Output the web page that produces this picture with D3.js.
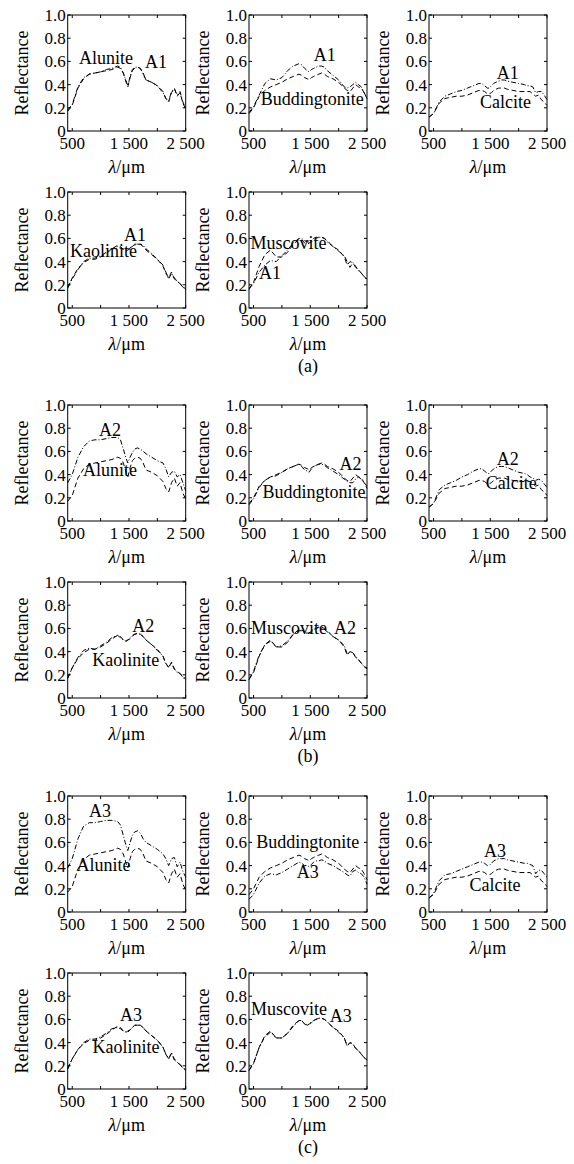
<!DOCTYPE html>
<html>
<head>
<meta charset="utf-8">
<script src="https://cdn.jsdelivr.net/npm/d3@7"></script>
<style>
  body { margin: 0; background: #fff; }
  svg text { font-family: "Liberation Serif", "DejaVu Serif", "Times New Roman", serif; fill: #000; }
</style>
</head>
<body>
<div id="chart"></div>
<script>
// sampled wavelengths (nm) shared by every spectrum
var wavelengths = [420, 500, 600, 700, 800, 900, 1000, 1100, 1200, 1300, 1350, 1400, 1450, 1480, 1520, 1560,
                   1600, 1650, 1700, 1750, 1800, 1900, 2000, 2100, 2150, 2200, 2250, 2300, 2350, 2400, 2450, 2500];

// library spectra (dashed)
var alunite       = [0.17, 0.22, 0.37, 0.45, 0.49, 0.50, 0.51, 0.52, 0.53, 0.55, 0.54, 0.50, 0.42, 0.38, 0.46, 0.52, 0.54, 0.55, 0.54, 0.50, 0.44, 0.42, 0.39, 0.34, 0.28, 0.25, 0.33, 0.37, 0.30, 0.33, 0.24, 0.19];
var buddingtonite = [0.15, 0.20, 0.30, 0.35, 0.38, 0.40, 0.42, 0.45, 0.47, 0.49, 0.48, 0.46, 0.45, 0.44, 0.46, 0.47, 0.48, 0.49, 0.50, 0.49, 0.47, 0.45, 0.42, 0.37, 0.35, 0.34, 0.37, 0.40, 0.38, 0.37, 0.33, 0.28];
var calcite       = [0.12, 0.15, 0.24, 0.28, 0.29, 0.30, 0.30, 0.31, 0.33, 0.35, 0.35, 0.34, 0.32, 0.32, 0.33, 0.35, 0.36, 0.37, 0.37, 0.37, 0.36, 0.35, 0.34, 0.34, 0.34, 0.34, 0.32, 0.30, 0.31, 0.27, 0.25, 0.22];
var kaolinite     = [0.17, 0.26, 0.34, 0.39, 0.42, 0.42, 0.44, 0.47, 0.51, 0.54, 0.53, 0.50, 0.49, 0.50, 0.51, 0.53, 0.55, 0.55, 0.55, 0.53, 0.50, 0.46, 0.42, 0.36, 0.30, 0.26, 0.31, 0.25, 0.23, 0.21, 0.19, 0.16];
var muscovite     = [0.16, 0.22, 0.36, 0.46, 0.50, 0.44, 0.44, 0.48, 0.55, 0.59, 0.59, 0.56, 0.55, 0.56, 0.57, 0.59, 0.60, 0.61, 0.61, 0.60, 0.58, 0.53, 0.50, 0.44, 0.37, 0.40, 0.39, 0.35, 0.33, 0.30, 0.27, 0.25];

// image endmember A1 (dash-dot)
var a1Alunite       = [0.18, 0.23, 0.38, 0.46, 0.49, 0.50, 0.51, 0.53, 0.54, 0.56, 0.55, 0.50, 0.43, 0.39, 0.47, 0.53, 0.55, 0.55, 0.54, 0.49, 0.44, 0.42, 0.39, 0.33, 0.28, 0.26, 0.34, 0.36, 0.31, 0.34, 0.25, 0.20];
var a1Buddingtonite = [0.16, 0.21, 0.31, 0.41, 0.45, 0.44, 0.46, 0.52, 0.56, 0.58, 0.57, 0.54, 0.52, 0.51, 0.53, 0.54, 0.55, 0.56, 0.56, 0.55, 0.52, 0.48, 0.44, 0.38, 0.37, 0.38, 0.40, 0.42, 0.40, 0.38, 0.33, 0.28];
var a1Calcite       = [0.12, 0.15, 0.25, 0.30, 0.32, 0.34, 0.35, 0.37, 0.39, 0.41, 0.41, 0.39, 0.37, 0.37, 0.39, 0.41, 0.42, 0.43, 0.44, 0.44, 0.43, 0.42, 0.41, 0.40, 0.39, 0.39, 0.38, 0.33, 0.34, 0.34, 0.31, 0.27];
var a1Kaolinite     = [0.18, 0.25, 0.33, 0.40, 0.43, 0.43, 0.45, 0.48, 0.51, 0.53, 0.52, 0.51, 0.50, 0.50, 0.52, 0.53, 0.54, 0.55, 0.55, 0.54, 0.51, 0.47, 0.42, 0.37, 0.31, 0.25, 0.30, 0.26, 0.23, 0.21, 0.18, 0.16];
var a1Muscovite     = [0.17, 0.21, 0.31, 0.37, 0.41, 0.40, 0.45, 0.50, 0.56, 0.60, 0.60, 0.58, 0.57, 0.57, 0.58, 0.60, 0.61, 0.61, 0.61, 0.60, 0.57, 0.53, 0.49, 0.45, 0.40, 0.35, 0.39, 0.36, 0.32, 0.30, 0.27, 0.24];

// image endmember A2
var a2Alunite       = [0.33, 0.40, 0.55, 0.64, 0.69, 0.70, 0.70, 0.71, 0.72, 0.72, 0.70, 0.62, 0.54, 0.50, 0.55, 0.59, 0.62, 0.63, 0.62, 0.60, 0.58, 0.55, 0.52, 0.50, 0.45, 0.38, 0.42, 0.43, 0.38, 0.40, 0.33, 0.26];
var a2Buddingtonite = [0.14, 0.19, 0.29, 0.35, 0.38, 0.39, 0.42, 0.45, 0.47, 0.49, 0.47, 0.44, 0.43, 0.42, 0.45, 0.47, 0.48, 0.49, 0.49, 0.48, 0.46, 0.43, 0.40, 0.36, 0.34, 0.33, 0.33, 0.36, 0.38, 0.36, 0.33, 0.30];
var a2Calcite       = [0.12, 0.15, 0.27, 0.31, 0.33, 0.35, 0.38, 0.40, 0.43, 0.45, 0.45, 0.43, 0.41, 0.41, 0.43, 0.45, 0.46, 0.47, 0.47, 0.47, 0.46, 0.44, 0.42, 0.41, 0.40, 0.38, 0.37, 0.35, 0.36, 0.35, 0.32, 0.29];
var a2Kaolinite     = [0.17, 0.26, 0.35, 0.41, 0.43, 0.42, 0.45, 0.48, 0.52, 0.54, 0.52, 0.50, 0.49, 0.50, 0.52, 0.54, 0.55, 0.56, 0.55, 0.53, 0.50, 0.46, 0.41, 0.36, 0.29, 0.27, 0.30, 0.25, 0.22, 0.21, 0.18, 0.15];
var a2Muscovite     = [0.16, 0.23, 0.37, 0.46, 0.49, 0.44, 0.45, 0.49, 0.55, 0.58, 0.58, 0.56, 0.56, 0.56, 0.58, 0.59, 0.60, 0.61, 0.60, 0.59, 0.57, 0.53, 0.50, 0.45, 0.38, 0.40, 0.39, 0.36, 0.33, 0.30, 0.27, 0.26];

// image endmember A3
var a3Alunite       = [0.38, 0.46, 0.63, 0.74, 0.77, 0.77, 0.78, 0.79, 0.79, 0.78, 0.75, 0.66, 0.57, 0.53, 0.60, 0.66, 0.69, 0.70, 0.68, 0.63, 0.60, 0.57, 0.54, 0.50, 0.46, 0.40, 0.46, 0.47, 0.39, 0.43, 0.35, 0.30];
var a3Buddingtonite = [0.11, 0.15, 0.25, 0.31, 0.33, 0.32, 0.34, 0.37, 0.40, 0.43, 0.42, 0.40, 0.40, 0.39, 0.41, 0.43, 0.44, 0.44, 0.45, 0.44, 0.42, 0.40, 0.37, 0.34, 0.32, 0.31, 0.35, 0.36, 0.34, 0.33, 0.30, 0.24];
var a3Calcite       = [0.12, 0.16, 0.27, 0.32, 0.33, 0.35, 0.37, 0.39, 0.41, 0.43, 0.43, 0.42, 0.40, 0.40, 0.42, 0.44, 0.45, 0.46, 0.46, 0.46, 0.45, 0.44, 0.43, 0.42, 0.42, 0.41, 0.40, 0.33, 0.36, 0.36, 0.33, 0.30];
var a3Kaolinite     = [0.18, 0.26, 0.34, 0.40, 0.43, 0.43, 0.45, 0.48, 0.52, 0.53, 0.52, 0.50, 0.49, 0.49, 0.51, 0.53, 0.55, 0.55, 0.55, 0.53, 0.50, 0.46, 0.42, 0.36, 0.30, 0.26, 0.31, 0.26, 0.23, 0.21, 0.18, 0.16];
var a3Muscovite     = [0.16, 0.22, 0.36, 0.45, 0.49, 0.44, 0.44, 0.48, 0.54, 0.59, 0.59, 0.56, 0.55, 0.56, 0.58, 0.59, 0.60, 0.61, 0.61, 0.60, 0.58, 0.53, 0.49, 0.44, 0.37, 0.40, 0.39, 0.35, 0.33, 0.30, 0.27, 0.26];

var minerals = ["Alunite", "Buddingtonite", "Calcite", "Kaolinite", "Muscovite"];
var endmembers = ["A1", "A2", "A3"];
var captions = ["(a)", "(b)", "(c)"];
var xTicks = [500, 1000, 1500, 2000, 2500];
var xTickLabels = {500: "500", 1500: "1 500", 2500: "2 500"};
var yTicks = [0, 0.2, 0.4, 0.6, 0.8, 1.0];

var libSpectra = [alunite, buddingtonite, calcite, kaolinite, muscovite];
var emSpectra = [
  [a1Alunite, a1Buddingtonite, a1Calcite, a1Kaolinite, a1Muscovite],
  [a2Alunite, a2Buddingtonite, a2Calcite, a2Kaolinite, a2Muscovite],
  [a3Alunite, a3Buddingtonite, a3Calcite, a3Kaolinite, a3Muscovite]
];

// where the in-plot labels sit, [wavelength, reflectance] of the text baseline
var mineralLabelAt = [
  [[1095, 0.58], [1535, 0.225], [1767, 0.20], [1049, 0.44], [1117, 0.51]],
  [[1166, 0.39], [1564, 0.20], [1868, 0.28], [1442, 0.275], [1125, 0.55]],
  [[1053, 0.35], [1454, 0.555], [1583, 0.18], [1448, 0.31], [1125, 0.64]]
];
var endmemberLabelAt = [
  [[1976, 0.54], [1755, 0.60], [1809, 0.45], [1607, 0.58], [790, 0.25]],
  [[1166, 0.73], [2208, 0.44], [1809, 0.48], [1754, 0.565], [2112, 0.55]],
  [[990, 0.82], [1454, 0.29], [1583, 0.47], [1536, 0.585], [2038, 0.58]]
];

var width = 574, height = 1164;
var boxW = 118, boxH = 116;
var groupTop = [15, 405, 796];
var rowOffset = [0, 177];
var colLeft = [67.7, 249, 429];
var fontFamily = "'Liberation Serif', 'DejaVu Serif', serif";

var svg = d3.select("#chart").append("svg")
  .attr("width", width)
  .attr("height", height)
  .attr("viewBox", [0, 0, width, height])
  .attr("font-family", fontFamily);

var x = d3.scaleLinear().domain([420, 2500]).range([0, boxW]);
var y = d3.scaleLinear().domain([0, 1]).range([boxH, 0]);

var line = d3.line()
  .x(function(d) { return x(d[0]); })
  .y(function(d) { return y(d[1]); });

function drawPanel(g, lib, em, mineral, emName, minPos, emPos) {
  // box
  g.append("rect")
    .attr("width", boxW).attr("height", boxH)
    .attr("fill", "none").attr("stroke", "#000").attr("stroke-width", 1);

  // inward ticks on all four sides
  var ticks = g.append("g").attr("stroke", "#000").attr("stroke-width", 1);
  xTicks.forEach(function(t) {
    ticks.append("line").attr("x1", x(t)).attr("x2", x(t)).attr("y1", boxH).attr("y2", boxH - 3);
    ticks.append("line").attr("x1", x(t)).attr("x2", x(t)).attr("y1", 0).attr("y2", 3);
  });
  yTicks.forEach(function(t) {
    ticks.append("line").attr("x1", 0).attr("x2", 3).attr("y1", y(t)).attr("y2", y(t));
    ticks.append("line").attr("x1", boxW).attr("x2", boxW - 3).attr("y1", y(t)).attr("y2", y(t));
  });

  g.selectAll(".ytl").data(yTicks).enter().append("text")
    .attr("x", -2).attr("y", function(d) { return y(d); })
    .attr("dy", "0.35em")
    .attr("text-anchor", "end")
    .style("font-size", "17px")
    .text(function(d) { return d === 0 ? "0" : d.toFixed(1); });

  g.selectAll(".xtl").data(xTicks.filter(function(t) { return xTickLabels[t]; })).enter().append("text")
    .attr("x", function(d) { return x(d); })
    .attr("y", boxH + 18)
    .attr("text-anchor", "middle")
    .style("font-size", "17px")
    .text(function(d) { return xTickLabels[d]; });

  g.append("text")
    .attr("transform", "translate(" + (-40) + "," + (boxH / 2) + ") rotate(-90)")
    .attr("text-anchor", "middle")
    .style("font-size", "18px")
    .text("Reflectance");

  var xl = g.append("text")
    .attr("x", boxW / 2).attr("y", boxH + 42)
    .attr("text-anchor", "middle")
    .style("font-size", "18px");
  xl.append("tspan").style("font-style", "italic").text("\u03bb");
  xl.append("tspan").text("/\u03bcm");

  g.append("path")
    .datum(d3.zip(wavelengths, lib))
    .attr("d", line)
    .attr("fill", "none").attr("stroke", "#000").attr("stroke-width", 1)
    .attr("stroke-dasharray", "5,3");

  g.append("path")
    .datum(d3.zip(wavelengths, em))
    .attr("d", line)
    .attr("fill", "none").attr("stroke", "#000").attr("stroke-width", 1)
    .attr("stroke-dasharray", "5,2,1,2");

  g.append("text")
    .attr("x", x(minPos[0])).attr("y", y(minPos[1]))
    .attr("text-anchor", "middle")
    .style("font-size", "18px")
    .text(mineral);

  g.append("text")
    .attr("x", x(emPos[0])).attr("y", y(emPos[1]))
    .attr("text-anchor", "middle")
    .style("font-size", "18px")
    .text(emName);
}

captions.forEach(function(cap, gi) {
  minerals.forEach(function(m, mi) {
    var row = mi < 3 ? 0 : 1, col = mi < 3 ? mi : mi - 3;
    var g = svg.append("g")
      .attr("transform", "translate(" + colLeft[col] + "," + (groupTop[gi] + rowOffset[row]) + ")");
    drawPanel(g, libSpectra[mi], emSpectra[gi][mi], m, endmembers[gi],
      mineralLabelAt[gi][mi], endmemberLabelAt[gi][mi]);
  });
  svg.append("text")
    .attr("x", colLeft[1] + boxW / 2)
    .attr("y", groupTop[gi] + rowOffset[1] + boxH + 64)
    .attr("text-anchor", "middle")
    .style("font-size", "18px")
    .text(cap);
});
</script>
</body>
</html>
